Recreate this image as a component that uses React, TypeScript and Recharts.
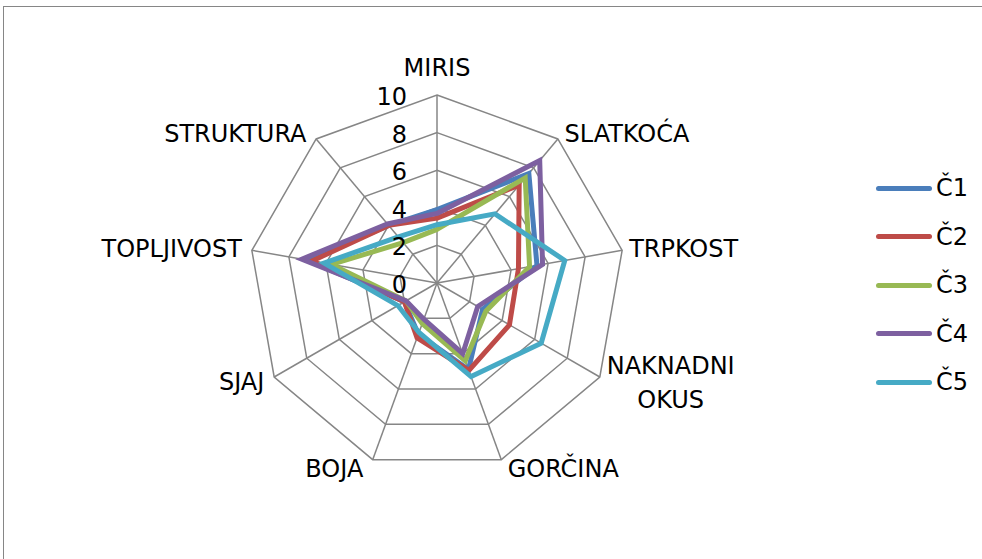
import React from 'react';
import { RadarChart, Radar, PolarGrid, PolarAngleAxis, PolarRadiusAxis, Legend } from 'recharts';

const categories = ['MIRIS', 'SLATKOĆA', 'TRPKOST', 'NAKNADNI OKUS', 'GORČINA', 'BOJA', 'SJAJ', 'TOPLJIVOST', 'STRUKTURA'];
const c1 = [3.9, 7.6, 5.4, 2.8, 4.9, 2.9, 2.0, 7.0, 4.0];
const c2 = [3.45, 6.8, 4.4, 4.45, 4.95, 3.1, 2.0, 6.75, 4.0];
const c3 = [2.85, 7.3, 5.0, 3.0, 4.4, 2.3, 1.9, 5.7, 2.8];
const c4 = [3.7, 8.5, 5.7, 2.5, 4.0, 2.05, 1.9, 7.3, 4.1];
const c5 = [3.1, 4.8, 6.9, 6.4, 5.3, 2.8, 2.4, 6.1, 3.2];
const seriesNames = ['Č1', 'Č2', 'Č3', 'Č4', 'Č5'];
const seriesColors = ['#4A7EBB', '#BE4B48', '#98B954', '#7D60A0', '#46AAC5'];
const radiusTicks = [0, 2, 4, 6, 8, 10];

const seriesValues = [c1, c2, c3, c4, c5];
const data = categories.map((cat, i) => {
  const row: any = { cat };
  seriesNames.forEach((n, s) => { row[n] = seriesValues[s][i]; });
  return row;
});

const CX = 437;
const CY = 283;
const R = 188;
const FONT = 'DejaVu Sans, Verdana, sans-serif';

const AngleTick = (props: any) => {
  const { x, y, payload } = props;
  const ang = Math.atan2(CY - y, x - CX);
  const cos = Math.cos(ang);
  const sin = Math.sin(ang);
  const label: string = String(payload.value);
  let tx = x;
  let anchor: 'start' | 'middle' | 'end' = 'middle';
  let ty = y;
  if (Math.abs(cos) < 0.1 && sin > 0) {
    ty = y - 26;
  } else if (cos > 0) {
    anchor = 'start';
    tx = x + 6;
    ty = y + (sin > 0 ? -5 * sin : -9 * sin);
  } else {
    anchor = 'end';
    tx = x - 9;
    ty = y + (sin > 0 ? -5 * sin : -9 * sin);
  }
  const parts = label.split(' ');
  if (label === 'NAKNADNI OKUS') {
    return (
      <text x={tx + 64} y={ty} textAnchor="middle" fontSize={24} fontFamily={FONT} fill="#000">
        <tspan x={tx + 64} dy={-16} dominantBaseline="central">{parts[0]}</tspan>
        <tspan x={tx + 64} dy={34} dominantBaseline="central">{parts[1]}</tspan>
      </text>
    );
  }
  return (
    <text x={tx} y={ty} textAnchor={anchor} dominantBaseline="central" fontSize={24} fontFamily={FONT} fill="#000">
      {label}
    </text>
  );
};

const RadiusTick = (props: any) => {
  const { x, y, payload } = props;
  return (
    <text x={x - 30} y={y + 2} textAnchor="end" dominantBaseline="central" fontSize={24} fontFamily={FONT} fill="#000">
      {payload.value}
    </text>
  );
};

const LegendContent = () => (
  <div style={{ fontFamily: FONT, fontSize: 24, color: '#000' }}>
    {seriesNames.map((n, i) => (
      <div key={n} style={{ display: 'flex', alignItems: 'center', height: 48.5 }}>
        <div style={{ width: 56, height: 5, borderRadius: 3, background: seriesColors[i], marginRight: 4 }} />
        <span>{n}</span>
      </div>
    ))}
  </div>
);

export default function App() {
  return (
    <div style={{ position: 'absolute', left: 0, top: 0, width: 982, height: 559, overflow: 'hidden', background: '#fff' }}>
      <div style={{ position: 'absolute', left: 3, top: 6, width: 1100, height: 700, border: '1.5px solid #868686' }} />
      <div style={{ position: 'absolute', left: 0, top: 0 }}>
        <RadarChart width={982} height={559} data={data} cx={CX} cy={CY} outerRadius={R} startAngle={90} endAngle={-270}>
          <PolarGrid gridType="polygon" stroke="#868686" strokeWidth={1.5} />
          <PolarAngleAxis dataKey="cat" tick={<AngleTick />} tickLine={false} tickSize={1} axisLine={false} />
          <PolarRadiusAxis angle={90} domain={[0, 10]} ticks={radiusTicks} tickCount={6} axisLine={false} tick={<RadiusTick />} />
          {seriesNames.map((n, i) => (
            <Radar key={n} name={n} dataKey={n} stroke={seriesColors[i]} strokeWidth={5} fill="none" fillOpacity={0} dot={false} isAnimationActive={false} />
          ))}
          <Legend content={<LegendContent />} layout="vertical" wrapperStyle={{ position: 'absolute', left: 876, top: 164, width: 100 }} />
        </RadarChart>
      </div>
    </div>
  );
}
